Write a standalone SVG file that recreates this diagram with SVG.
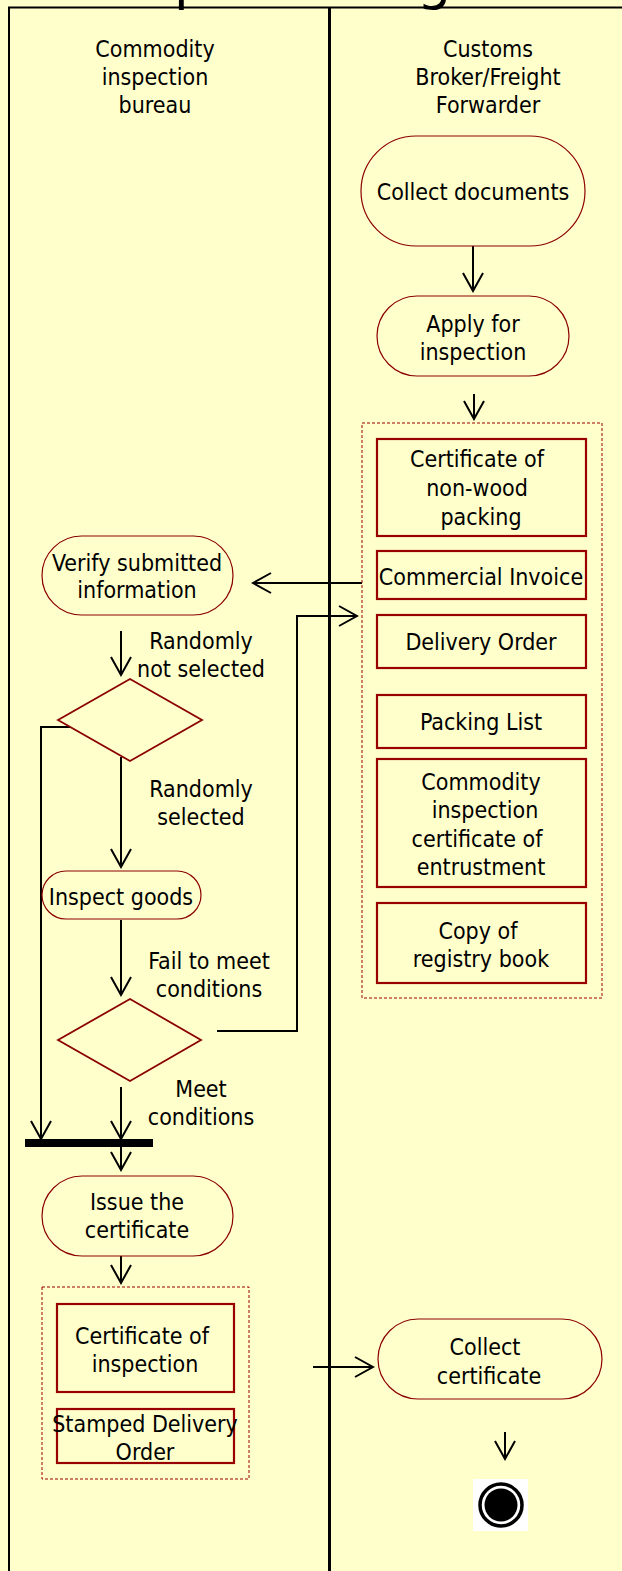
<svg xmlns="http://www.w3.org/2000/svg" width="622" height="1571" viewBox="0 0 622 1571">
<style>
  text { font-family: "DejaVu Sans Condensed", "DejaVu Sans", sans-serif; font-size: 23px; fill: #000; text-anchor: middle; }
  .title { font-family: "DejaVu Sans", sans-serif; font-size: 54px; text-anchor: start; }
  .lane { fill: none; stroke: #000; }
  .act { fill: #FFFFCC; stroke: #8B0000; stroke-width: 1.2; }
  .obj { fill: #FFFFCC; stroke: #990000; stroke-width: 2.2; }
  .dec { fill: #FFFFCC; stroke: #8B0000; stroke-width: 1.8; }
  .grp { fill: none; stroke: #990000; stroke-width: 1; stroke-dasharray: 3 2; }
  .flow { fill: none; stroke: #000; stroke-width: 2; }
</style>
<defs>
  <marker id="arr" markerUnits="userSpaceOnUse" viewBox="-20 -12 22 24" refX="0" refY="0" markerWidth="22" markerHeight="24" orient="auto">
    <path d="M-18,-10 L0,0 L-18,10" fill="none" stroke="#000" stroke-width="2"/>
  </marker>
</defs>
<rect x="0" y="0" width="622" height="1571" fill="#FFFFCC"/>
<text class="title"><tspan x="174" y="-1">p</tspan><tspan x="417" y="-1">g</tspan></text>

<g id="swimlanes">
  <path class="lane" stroke-width="2" d="M9,1575 L9,7.5 L640,7.5"/>
  <line class="lane" stroke-width="3" x1="329.5" y1="7" x2="329.5" y2="1575"/>
  <g id="lane-inspection-bureau">
    <text x="155" y="57">Commodity</text>
    <text x="155" y="85">inspection</text>
    <text x="155" y="113">bureau</text>
  </g>
  <g id="lane-customs-broker">
    <text x="488" y="57">Customs</text>
    <text x="488" y="85">Broker/Freight</text>
    <text x="488" y="113">Forwarder</text>
  </g>
</g>

<g id="connectors">
  <line class="flow" x1="473" y1="246" x2="473" y2="291" marker-end="url(#arr)"/>
  <line class="flow" x1="474" y1="394" x2="474" y2="419" marker-end="url(#arr)"/>
  <line class="flow" x1="362" y1="583" x2="253" y2="583" marker-end="url(#arr)"/>
  <line class="flow" x1="121" y1="631" x2="121" y2="675" marker-end="url(#arr)"/>
  <polyline class="flow" points="73,727 41,727 41,1139" marker-end="url(#arr)"/>
  <line class="flow" x1="121" y1="757" x2="121" y2="867" marker-end="url(#arr)"/>
  <line class="flow" x1="121" y1="920" x2="121" y2="995" marker-end="url(#arr)"/>
  <polyline class="flow" points="217,1031 297,1031 297,616 357,616" marker-end="url(#arr)"/>
  <line class="flow" x1="121" y1="1087" x2="121" y2="1139" marker-end="url(#arr)"/>
  <line class="flow" x1="121" y1="1147" x2="121" y2="1170" marker-end="url(#arr)"/>
  <line class="flow" x1="121" y1="1256" x2="121" y2="1283" marker-end="url(#arr)"/>
  <line class="flow" x1="313" y1="1367" x2="373" y2="1367" marker-end="url(#arr)"/>
  <line class="flow" x1="505" y1="1432" x2="505" y2="1459" marker-end="url(#arr)"/>
</g>

<g id="collect-documents">
  <rect class="act" x="361" y="136" width="224" height="110" rx="55" ry="55"/>
  <text x="473" y="200">Collect documents</text>
</g>
<g id="apply-for-inspection">
  <rect class="act" x="377" y="296" width="192" height="80" rx="40" ry="40"/>
  <text x="473" y="332">Apply for</text>
  <text x="473" y="360">inspection</text>
</g>

<g id="submitted-documents">
  <rect class="grp" x="362" y="423" width="240" height="575"/>
  <g id="doc-non-wood">
    <rect class="obj" x="377" y="439" width="209" height="97"/>
    <text x="477" y="467">Certificate of</text>
    <text x="477" y="496">non-wood</text>
    <text x="481" y="525">packing</text>
  </g>
  <g id="doc-commercial-invoice">
    <rect class="obj" x="377" y="551" width="209" height="48"/>
    <text x="481" y="585">Commercial Invoice</text>
  </g>
  <g id="doc-delivery-order">
    <rect class="obj" x="377" y="615" width="209" height="53"/>
    <text x="481" y="650">Delivery Order</text>
  </g>
  <g id="doc-packing-list">
    <rect class="obj" x="377" y="695" width="209" height="53"/>
    <text x="481" y="730">Packing List</text>
  </g>
  <g id="doc-entrustment">
    <rect class="obj" x="377" y="759" width="209" height="128"/>
    <text x="481" y="790">Commodity</text>
    <text x="485" y="818">inspection</text>
    <text x="477" y="847">certificate of</text>
    <text x="481" y="875">entrustment</text>
  </g>
  <g id="doc-registry-book">
    <rect class="obj" x="377" y="903" width="209" height="80"/>
    <text x="478" y="939">Copy of</text>
    <text x="481" y="967">registry book</text>
  </g>
</g>

<g id="verify-information">
  <rect class="act" x="42" y="536" width="191" height="79" rx="39.5" ry="39.5"/>
  <text x="137" y="571">Verify submitted</text>
  <text x="137" y="598">information</text>
</g>
<g id="label-not-selected">
  <text x="201" y="649">Randomly</text>
  <text x="201" y="677">not selected</text>
</g>
<g id="decision-random">
  <polygon class="dec" points="58,720 130,679 202,720 130,761"/>
</g>
<g id="label-selected">
  <text x="201" y="797">Randomly</text>
  <text x="201" y="825">selected</text>
</g>
<g id="inspect-goods">
  <rect class="act" x="42" y="871" width="159" height="48" rx="24" ry="24"/>
  <text x="121" y="905">Inspect goods</text>
</g>
<g id="label-fail">
  <text x="209" y="969">Fail to meet</text>
  <text x="209" y="997">conditions</text>
</g>
<g id="decision-conditions">
  <polygon class="dec" points="58,1040 130,999 201,1040 130,1081"/>
</g>
<g id="label-meet">
  <text x="201" y="1097">Meet</text>
  <text x="201" y="1125">conditions</text>
</g>
<g id="join-bar">
  <rect x="25" y="1139" width="128" height="8" fill="#000"/>
</g>
<g id="issue-certificate">
  <rect class="act" x="42" y="1176" width="191" height="80" rx="40" ry="40"/>
  <text x="137" y="1210">Issue the</text>
  <text x="137" y="1238">certificate</text>
</g>

<g id="issued-documents">
  <rect class="grp" x="42" y="1287" width="207" height="192"/>
  <g id="doc-certificate-inspection">
    <rect class="obj" x="57" y="1304" width="177" height="88"/>
    <text x="142" y="1344">Certificate of</text>
    <text x="145" y="1372">inspection</text>
  </g>
  <g id="doc-stamped-delivery-order">
    <rect class="obj" x="57" y="1409" width="177" height="54"/>
    <text x="145" y="1432">Stamped Delivery</text>
    <text x="145" y="1460">Order</text>
  </g>
</g>

<g id="collect-certificate">
  <rect class="act" x="378" y="1319" width="224" height="80" rx="40" ry="40"/>
  <text x="485" y="1355">Collect</text>
  <text x="489" y="1384">certificate</text>
</g>

<g id="final-node">
  <rect x="473" y="1479" width="55" height="52" fill="#FFFFFF"/>
  <circle cx="501" cy="1505" r="21" fill="none" stroke="#000" stroke-width="3.5"/>
  <circle cx="501" cy="1505" r="16.5" fill="#000"/>
</g>
</svg>
